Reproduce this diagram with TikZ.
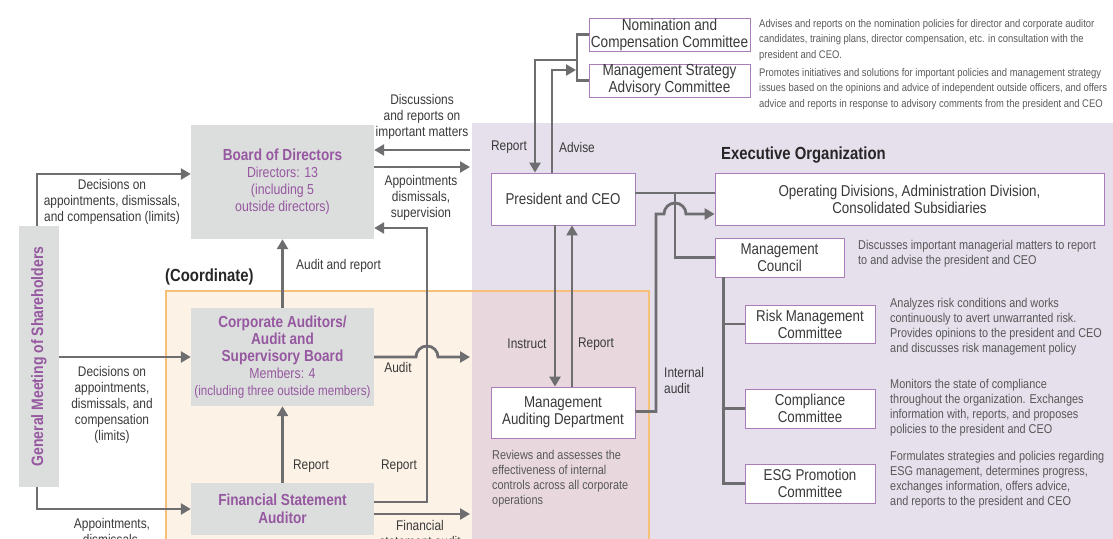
\documentclass[tikz,border=0pt]{standalone}
\usepackage{fontspec}
\setmainfont{Liberation Sans}[FakeStretch=0.85]
\usetikzlibrary{arrows.meta,calc,positioning}
\definecolor{arrgray}{RGB}{110,110,112}
\definecolor{boxgray}{RGB}{220,222,221}
\definecolor{ttlpurple}{RGB}{150,88,160}
\definecolor{bordpurple}{RGB}{170,125,185}
\definecolor{execbg}{RGB}{230,223,236}
\definecolor{coordbg}{RGB}{253,242,230}
\definecolor{coordline}{RGB}{246,192,120}
\definecolor{overlapbg}{RGB}{232,216,221}
\definecolor{txtgray}{RGB}{58,58,58}
\definecolor{dscgray}{RGB}{88,88,88}
\newcommand{\lblsize}{\fontsize{14}{16}\selectfont}
\newcommand{\dscsize}{\fontsize{12.8}{15}\selectfont}
\newcommand{\topsize}{\fontsize{11.1}{15.5}\selectfont}
\newcommand{\boxsize}{\fontsize{15.7}{17}\selectfont}
\newcommand{\subsize}{\fontsize{14.5}{17}\selectfont}
\newcommand{\ttlsize}{\fontsize{16}{18}\selectfont\bfseries}
\newcommand{\headsize}{\fontsize{17.5}{20}\selectfont\bfseries}
\tikzset{
    graysty/.style={fill=boxgray, text=ttlpurple, align=center, inner sep=0pt},
    whitesty/.style={draw=bordpurple, fill=white, text=txtgray, line width=0.8pt, align=center, inner sep=0pt, font=\boxsize},
    lblsty/.style={text=txtgray, align=center, inner sep=0pt, font=\lblsize},
    dscsty/.style={text=dscgray, align=left, anchor=west, inner sep=0pt, font=\dscsize},
    headsty/.style={text=black!85, anchor=west, inner sep=0pt, font=\headsize},
    arrsty/.style={draw=arrgray, line width=2.8pt, -{Triangle[length=10pt,width=11pt]}},
    linesty/.style={draw=arrgray, line width=2.8pt},
}

\begin{document}
\begin{tikzpicture}[x=1pt, y=-1pt]
  \clip (0,0) rectangle (1113,538);
  % background areas
  \fill[execbg] (472,123) rectangle (1113,545);
  \fill[coordbg] (166,291) rectangle (472,545);
  \fill[overlapbg] (472,291) rectangle (649,545);
  \draw[coordline, line width=1.4pt] (166,545) -- (166,291) -- (649,291) -- (649,545);
  \node[headsty] (coordlbl) at (165,277) {(Coordinate)};
  \node[headsty] (execlbl) at (721,155) {Executive Organization};

  % governance bodies
  \node[graysty, rotate=90, minimum width=261pt, minimum height=40pt, font=\fontsize{16.5}{18}\selectfont\bfseries] (gms) at (39,356.5) {General Meeting of Shareholders};
  \node[graysty, minimum width=183pt, minimum height=114pt, font=\subsize] (bod) at (282.5,182)
    {{\ttlsize Board of Directors}\\Directors: 13\\(including 5\\outside directors)};
  \node[graysty, minimum width=183pt, minimum height=98pt, font=\subsize] (ca) at (282.5,357)
    {{\ttlsize Corporate Auditors/}\\{\ttlsize Audit and}\\{\ttlsize Supervisory Board}\\Members: 4\\{\fontsize{13.7}{17}\selectfont(including three outside members)}};
  \node[graysty, minimum width=183pt, minimum height=52pt, font=\ttlsize] (fsa) at (282.5,509)
    {Financial Statement\\Auditor};

  % executive side
  \node[whitesty, minimum width=161pt, minimum height=33pt, font=\fontsize{16}{17}\selectfont] (ncc) at (669.5,34.5) {Nomination and\\Compensation Committee};
  \node[whitesty, minimum width=161pt, minimum height=33pt, font=\fontsize{16}{17}\selectfont] (msac) at (669.5,80.5) {Management Strategy\\Advisory Committee};
  \node[whitesty, minimum width=144pt, minimum height=52pt] (pres) at (563,199) {President and CEO};
  \node[whitesty, minimum width=389pt, minimum height=52pt] (opdiv) at (909.5,199) {Operating Divisions, Administration Division,\\Consolidated Subsidiaries};
  \node[whitesty, minimum width=129pt, minimum height=39pt] (mc) at (779.5,257.5) {Management\\Council};
  \node[whitesty, minimum width=130pt, minimum height=38pt] (risk) at (810,324) {Risk Management\\Committee};
  \node[whitesty, minimum width=130pt, minimum height=39pt] (comp) at (810,408.5) {Compliance\\Committee};
  \node[whitesty, minimum width=130pt, minimum height=39pt] (esg) at (810,483.5) {ESG Promotion\\Committee};
  \node[whitesty, minimum width=144pt, minimum height=51pt] (mad) at (563,412.5) {Management\\Auditing Department};

  % descriptions
  \node[dscsty, font=\topsize, anchor=north west] (nccdsc) at (759,19) {Advises and reports on the nomination policies for director and corporate auditor\\candidates, training plans, director compensation, etc. in consultation with the\\president and CEO.};
  \node[dscsty, font=\topsize, anchor=north west] (msacdsc) at (759,68) {Promotes initiatives and solutions for important policies and management strategy\\issues based on the opinions and advice of independent outside officers, and offers\\advice and reports in response to advisory comments from the president and CEO};
  \node[dscsty] (mcdsc) at (858,254) {Discusses important managerial matters to report\\to and advise the president and CEO};
  \node[dscsty] (riskdsc) at (890,326.5) {Analyzes risk conditions and works\\continuously to avert unwarranted risk.\\Provides opinions to the president and CEO\\and discusses risk management policy};
  \node[dscsty] (compdsc) at (890,408) {Monitors the state of compliance\\throughout the organization. Exchanges\\information with, reports, and proposes\\policies to the president and CEO};
  \node[dscsty] (esgdsc) at (890,480) {Formulates strategies and policies regarding\\ESG management, determines progress,\\exchanges information, offers advice,\\and reports to the president and CEO};
  \node[dscsty] (maddsc) at (492,478.5) {Reviews and assesses the\\effectiveness of internal\\controls across all corporate\\operations};

  % connector points
  \coordinate (rptx) at (427,228);
  \coordinate (auditend) at (470,357);
  \coordinate (fsaend) at (470,514);
  \coordinate (discstart) at (470,150);
  \coordinate (apptend) at (470,167);
  \coordinate (brk) at (577,57);
  \coordinate (rptc) at (577,60);
  \coordinate (advc) at (576,70);
  \coordinate (iaup) at (656,214);
  \coordinate (mcv) at ([xshift=-56pt]mc.south);

  % shareholders
  \draw[arrsty] ([xshift=-2pt]gms.east) |- ([yshift=8pt]bod.west);
  \draw[arrsty] (gms.south |- ca.west) -- (ca.west);
  \draw[arrsty] ([xshift=-2pt]gms.west) |- (fsa.west);
  \node[lblsty] (gmslbl1) at (112,202) {Decisions on\\appointments, dismissals,\\and compensation (limits)};
  \node[lblsty] (gmslbl2) at (112,405) {Decisions on\\appointments,\\dismissals, and\\compensation\\(limits)};
  \node[lblsty, anchor=north] (gmslbl3) at (112,518) {Appointments,\\dismissals,};

  % auditors
  \draw[arrsty] (ca.north) -- (bod.south);
  \draw[arrsty] (fsa.north) -- (ca.south);
  \draw[arrsty] ([yshift=7pt]fsa.east) -| (rptx) -- (rptx -| bod.east);
  \draw[arrsty] (ca.east) -- (416,357) arc[start angle=180, end angle=0, radius=11pt] -- (auditend);
  \draw[arrsty] (fsa.east |- fsaend) -- (fsaend);
  \draw[arrsty] (discstart) -- (discstart -| bod.east);
  \draw[arrsty] (apptend -| bod.east) -- (apptend);
  \node[lblsty, anchor=west] (carpt) at (296,266) {Audit and report};
  \node[lblsty] (auditlbl) at (398,367) {Audit};
  \node[lblsty] (fsarpt1) at (311,466) {Report};
  \node[lblsty] (fsarpt2) at (399,466) {Report};
  \node[lblsty, anchor=north] (fsalbl) at (420,520) {Financial\\statement audit};
  \node[lblsty] (disclbl) at (422,117) {Discussions\\and reports on\\important matters};
  \node[lblsty] (apptlbl) at (421,198) {Appointments\\dismissals,\\supervision};

  % committees and president
  \draw[linesty] (ncc.west) -| (brk) |- (msac.west);
  \draw[arrsty] (rptc) -| ([xshift=-28pt]pres.north);
  \draw[arrsty] ([xshift=-11pt]pres.north) |- (advc);
  \node[lblsty] (preslbl1) at (509,147) {Report};
  \node[lblsty] (preslbl2) at (577,147) {Advise};

  % executive organization
  \draw[linesty] ([yshift=6pt]pres.east) -- ([yshift=6pt]opdiv.west);
  \draw[linesty] ([yshift=6pt]$(pres.east)!0.5!(opdiv.west)$) |- (mc.west);
  \draw[linesty] (mcv) |- (esg.west);
  \draw[linesty] (risk.west) -- (risk.west -| mcv);
  \draw[linesty] (comp.west) -- (comp.west -| mcv);
  \draw[arrsty] ([xshift=-8pt]pres.south) -- ([xshift=-8pt]mad.north);
  \draw[arrsty] ([xshift=9pt]mad.north) -- ([xshift=9pt]pres.south);
  \draw[arrsty] ([yshift=1pt]mad.east) -| (iaup) -- (664,214) arc[start angle=180, end angle=0, radius=11pt] -- (opdiv.west |- iaup);
  \node[lblsty] (instlbl) at (527,344) {Instruct};
  \node[lblsty] (madrpt) at (596,344) {Report};
  \node[lblsty, align=left, anchor=west] (ialbl) at (664,380) {Internal\\audit};
\end{tikzpicture}
\end{document}
